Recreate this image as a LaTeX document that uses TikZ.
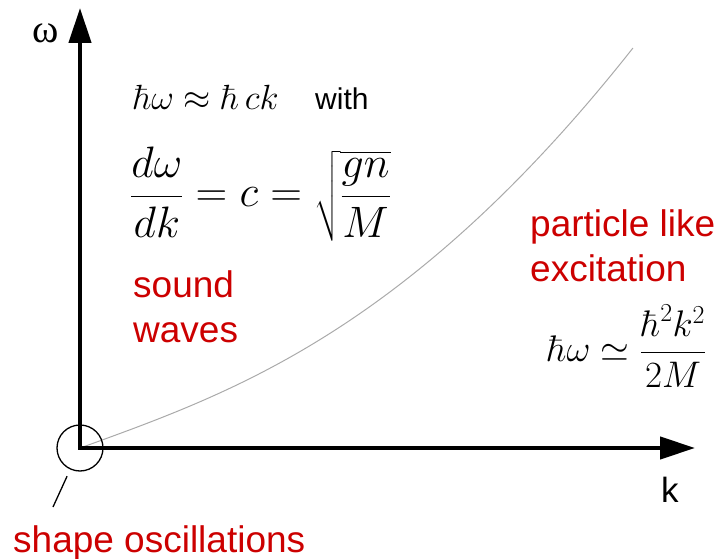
\RequirePackage{fix-cm}
\documentclass[tikz,border=0pt]{standalone}
\usepackage{amsmath}
\usepackage[no-math]{fontspec}
\setmainfont{Liberation Sans}
\newfontfamily\serifo{Liberation Serif}
\usetikzlibrary{arrows.meta}
\definecolor{rojo}{HTML}{CC0000}
\definecolor{gris}{HTML}{AAAAAA}

\begin{document}
\begin{tikzpicture}[x=1pt, y=-1pt,
    eje/.style={line width=4.5pt, line join=miter,
      {Triangle[length=35pt, width=22pt]}-{Triangle[length=35pt, width=22pt]}},
    lbl/.style={text=rojo, font=\fontsize{37}{45}\selectfont, inner sep=0pt, align=left},
    ecu/.style={inner sep=0pt, anchor=base west}]
  \useasboundingbox (0,0) rectangle (716,559);
  % axes
  \coordinate (O) at (80,448);
  \coordinate (wtop) at (80,8);
  \coordinate (kend) at (695,448);
  % dispersion curve
  \draw[gris, line width=1pt] plot[domain=0:5.53, samples=80, smooth]
    ({80+100*\x}, {448-100*sqrt(0.13*\x*\x+0.01286*\x*\x*\x*\x)});
  \draw[eje] (wtop) -- (O) -- (kend);
  \node[inner sep=0pt, font=\serifo\fontsize{40}{40}\selectfont] (wlbl) at (46,33) {ω};
  \node[ecu, font=\fontsize{35}{35}\selectfont] (klbl) at (661,502) {k};
  % low k
  \node[draw, circle, line width=1.3pt, minimum size=46pt, inner sep=0pt] (osc) at (O) {};
  \coordinate (oscend) at (53,507);
  \draw[line width=1.3pt, shorten <=31pt] (osc.center) -- (oscend);
  \node[lbl, anchor=base west] (shape) at (13,552) {shape oscillations};
  % formulas
  \node[ecu, font=\fontsize{35}{35}\selectfont] (sonido) at (133,110) {$\hbar\omega \approx \hbar\, ck$};
  \node[ecu, font=\fontsize{30}{30}\selectfont] (with) at (315,110) {with};
  \node[ecu, font=\fontsize{44}{44}\selectfont] (vel) at (130,207) {$\dfrac{d\omega}{dk} = c = \sqrt{\dfrac{gn}{M}}$};
  \node[lbl, anchor=base west] (sound) at (133,342) {sound\\waves};
  \node[lbl, anchor=base west] (part) at (530,282) {particle like\\excitation};
  \node[ecu, font=\fontsize{37}{37}\selectfont] (libre) at (547,362) {$\hbar\omega \simeq \dfrac{\hbar^2k^2}{2M}$};
\end{tikzpicture}
\end{document}
